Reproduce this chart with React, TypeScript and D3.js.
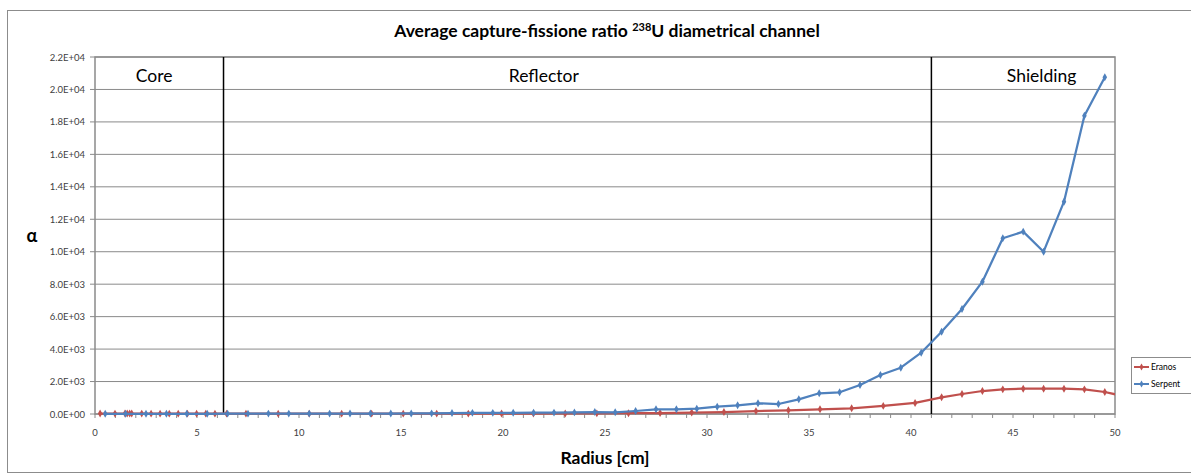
import React from "react";
import * as d3 from "d3";

const yTicks = [0, 2000, 4000, 6000, 8000, 10000, 12000, 14000, 16000, 18000, 20000, 22000];
const xTicks = [0, 5, 10, 15, 20, 25, 30, 35, 40, 45, 50];
const regionBounds = [6.3, 41];
const regionLabels = [
  { name: "Core", at: 2.9 },
  { name: "Reflector", at: 22.0 },
  { name: "Shielding", at: 46.4 },
];

const eranosR = [0.25, 0.98, 1.47, 1.58, 1.7, 1.8, 2.29, 2.75, 3.19, 3.64, 4.08, 4.53, 4.98, 5.43, 5.88, 6.45, 7.4, 8.98, 10.5, 12.09, 13.56, 15.11, 16.75, 18.3, 19.93, 21.49, 23.05, 24.6, 26.15, 27.7, 29.25, 30.83, 32.4, 33.99, 35.54, 37.09, 38.64, 40.2, 41.5, 42.5, 43.5, 44.5, 45.5, 46.5, 47.5, 48.5, 49.5, 50.5];
const eranosV = [30, 25, 30, 35, 30, 30, 25, 20, 20, 20, 20, 20, 20, 20, 20, 20, 20, 20, 20, 20, 20, 20, 25, 25, 30, 30, 35, 40, 50, 60, 90, 120, 180, 230, 290, 350, 500, 680, 1029, 1232, 1417, 1520, 1560, 1560, 1560, 1520, 1356, 1080];

const serpentR = [0.5, 1.5, 2.5, 3.5, 4.5, 5.5, 6.5, 7.5, 8.5, 9.5, 10.5, 11.5, 12.5, 13.5, 14.5, 15.5, 16.5, 17.5, 18.5, 19.5, 20.5, 21.5, 22.5, 23.5, 24.5, 25.5, 26.5, 27.5, 28.5, 29.5, 30.5, 31.5, 32.5, 33.5, 34.5, 35.5, 36.5, 37.5, 38.5, 39.5, 40.5, 41.5, 42.5, 43.5, 44.5, 45.5, 46.5, 47.5, 48.5, 49.5];
const serpentV = [15, 15, 15, 15, 15, 15, 20, 20, 25, 25, 25, 25, 30, 30, 30, 35, 40, 60, 70, 70, 75, 80, 85, 100, 120, 105, 185, 290, 290, 327, 450, 535, 660, 616, 906, 1276, 1337, 1787, 2403, 2853, 3778, 5072, 6470, 8153, 10828, 11236, 10002, 13083, 18384, 20750];

const seriesNames = ["Eranos", "Serpent"];
const seriesColors = ["#C0504D", "#4F81BD"];

const FONT = "Lato, 'Open Sans', sans-serif";

export default function App() {
  const left = 95, right = 1115, top = 57, bottom = 414;
  const x = d3.scaleLinear().domain([0, 50]).range([left, right]);
  const y = d3.scaleLinear().domain([0, 22000]).range([bottom, top]);
  const line = d3.line<[number, number]>().x((d) => x(d[0])).y((d) => y(d[1]));
  const sym = d3.symbol().type(d3.symbolDiamond).size(18)() as string;

  const series = [
    eranosR.map((r, i) => [r, eranosV[i]] as [number, number]),
    serpentR.map((r, i) => [r, serpentV[i]] as [number, number]),
  ];
  const minor = d3.range(0, 51, 1);

  return (
    <svg width={1191} height={474} style={{ position: "absolute", left: 0, top: 0, background: "#fff" }} fontFamily={FONT}>
      <defs>
        <clipPath id="plotclip">
          <rect x={left} y={top - 5} width={right - left} height={bottom - top + 10} />
        </clipPath>
      </defs>
      <rect x={7.5} y={10.5} width={1220} height={462} fill="#fff" stroke="#8c8c8c" strokeWidth={1} />
      <text x={607} y={37} textAnchor="middle" fontSize={17.5} fontWeight="bold" fill="#000">
        Average capture-fissione ratio <tspan fontSize={11} dy={-6}>238</tspan><tspan dy={6}>U diametrical channel</tspan>
      </text>
      {yTicks.map((t) => (
        <g key={t}>
          <line x1={left} x2={right} y1={y(t)} y2={y(t)} stroke="#8a8a8a" strokeWidth={1} />
          <line x1={left - 5} x2={left} y1={y(t)} y2={y(t)} stroke="#8a8a8a" />
          <text x={left - 10} y={y(t) + 3.5} textAnchor="end" fontSize={9.5} fill="#404040">
            {d3.format(".1e")(t).replace("e+", "E+0").replace("e-", "E-0").toUpperCase()}
          </text>
        </g>
      ))}
      <rect x={left} y={top} width={right - left} height={bottom - top} fill="none" stroke="#8a8a8a" strokeWidth={1.5} />
      {minor.map((t) => (
        <line key={t} x1={x(t)} x2={x(t)} y1={bottom} y2={bottom + 4} stroke="#8a8a8a" />
      ))}
      {xTicks.map((t) => (
        <text key={t} x={x(t)} y={436} textAnchor="middle" fontSize={9.5} fill="#404040">{t}</text>
      ))}
      {regionBounds.map((b) => (
        <line key={b} x1={x(b)} x2={x(b)} y1={top} y2={bottom} stroke="#000" strokeWidth={1.5} />
      ))}
      {regionLabels.map((r) => (
        <text key={r.name} x={x(r.at)} y={82} textAnchor="middle" fontSize={17.5} fill="#000">{r.name}</text>
      ))}
      <g clipPath="url(#plotclip)">
        {series.map((s, i) => (
          <g key={i}>
            <path d={line(s) as string} fill="none" stroke={seriesColors[i]} strokeWidth={2.25} strokeLinejoin="round" />
            {s.map((p, j) => (
              <path key={j} d={sym} transform={`translate(${x(p[0])},${y(p[1])})`} fill={seriesColors[i]} />
            ))}
          </g>
        ))}
      </g>
      <text x={32} y={242} textAnchor="middle" fontSize={18} fontWeight="bold" fill="#000">α</text>
      <text x={605} y={464} textAnchor="middle" fontSize={17.5} fontWeight="bold" fill="#000">Radius [cm]</text>
      <rect x={1131.5} y={357.5} width={80} height={36} fill="#fff" stroke="#8c8c8c" />
      {seriesNames.map((n, i) => (
        <g key={n}>
          <line x1={1134} x2={1149} y1={367 + i * 17} y2={367 + i * 17} stroke={seriesColors[i]} strokeWidth={2} />
          <path d={d3.symbol().type(d3.symbolDiamond).size(14)() as string} transform={`translate(1141.5,${367 + i * 17})`} fill={seriesColors[i]} />
          <text x={1151} y={370 + i * 17} fontSize={8.5} fill="#000">{n}</text>
        </g>
      ))}
    </svg>
  );
}
